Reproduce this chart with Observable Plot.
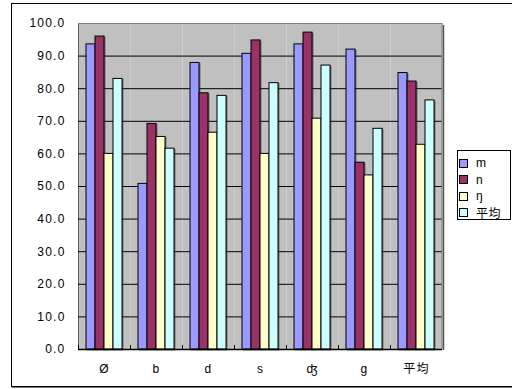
<!DOCTYPE html>
<html>
<head>
<meta charset="utf-8">
<script src="https://cdn.jsdelivr.net/npm/d3@7"></script>
<script src="https://cdn.jsdelivr.net/npm/@observablehq/plot@0.6"></script>
<style>
  html, body { margin: 0; padding: 0; background: #fff; }
  #wrap { position: relative; width: 512px; height: 389px; overflow: hidden;
          font-family: "Liberation Sans", Arial, "Noto Sans CJK JP", sans-serif; }
  #wrap svg { position: absolute; left: 0; top: 0; }
  #wrap svg text { font-family: "Liberation Sans", Arial, "Noto Sans CJK JP", sans-serif; fill: #000; }
  #wrap g[aria-label="bar"] rect { filter: drop-shadow(1px 1px 0 rgba(40,40,40,0.55)); }
  #border { position: absolute; left: 11px; top: 3px; width: 520px; height: 382px;
            border: 1px solid #000; box-shadow: 1px 1px 0 #777; pointer-events: none; }
  #legend { position: absolute; left: 457px; top: 150px; width: 54px; height: 70px;
            border: 1px solid #000; background: #fff; box-sizing: border-box;
            padding-top: 4px; }
  .item { height: 16.5px; display: flex; align-items: center; font-size: 12px; letter-spacing: 0.5px; }
  .sw { width: 9px; height: 9px; border: 1px solid #000; margin-left: 1px; margin-right: 8px; box-sizing: border-box; }
</style>
</head>
<body>
<div id="wrap"></div>
<script>
// Categories (onset consonants) and the four series
const categories = ["Ø", "b", "d", "s", "ʤ", "g", "平均"];
const seriesNames = ["m", "n", "ŋ", "平均"];
const mValues   = [93.6, 50.8, 87.9, 90.7, 93.6, 92.0, 84.8];
const nValues   = [96.0, 69.2, 78.6, 94.8, 97.2, 57.3, 82.2];
const ngValues  = [60.0, 65.2, 66.5, 60.0, 70.8, 53.4, 62.8];
const avgValues = [83.0, 61.6, 77.8, 81.7, 87.1, 67.7, 76.4];
const seriesColors = ["#9999FF", "#993366", "#FFFFCC", "#CCFFFF"];
const yTicks = [0, 10, 20, 30, 40, 50, 60, 70, 80, 90, 100];

const seriesValues = [mValues, nValues, ngValues, avgValues];
const rows = categories.flatMap((c, i) =>
  seriesNames.map((s, j) => ({category: c, series: s, value: seriesValues[j][i]}))
);

const chart = Plot.plot({
  width: 512,
  height: 389,
  marginLeft: 76,
  marginRight: 69,
  marginTop: 23,
  marginBottom: 40,
  style: {background: "transparent", fontSize: "12px", letterSpacing: "1.2px"},
  fx: {domain: categories, padding: 0, label: null, tickSize: 0, tickPadding: 15},
  x: {domain: seriesNames, paddingInner: 0, paddingOuter: 0.75, axis: null},
  y: {domain: [0, 100], ticks: yTicks, tickFormat: d => d.toFixed(1), tickSize: 0,
      tickPadding: 13, label: null, line: true},
  color: {domain: seriesNames, range: seriesColors},
  marks: [
    Plot.frame({fill: "#C0C0C0", stroke: null}),
    Plot.ruleY(yTicks.filter(t => t > 0 && t < 100), {stroke: "#000", strokeWidth: 1}),
    Plot.ruleY([100], {stroke: "#808080"}),
    Plot.barY(rows, {fx: "category", x: "series", y: "value", fill: "series",
                     stroke: "#000", strokeWidth: 1}),
    Plot.frame({anchor: "left", insetTop: 322, stroke: "#000"}),
    Plot.ruleY([0], {stroke: "#000", strokeWidth: 1.5})
  ]
});

document.getElementById("wrap").appendChild(chart);

// Right edge of the plot area, with its shadow
const fx = chart.scale("fx");
const y = chart.scale("y");
const xr = fx.apply(categories[categories.length - 1]) + fx.bandwidth;
const svg = d3.select(chart);
svg.append("line")
  .attr("x1", xr).attr("x2", xr).attr("y1", y.apply(100)).attr("y2", y.apply(0))
  .attr("stroke", "#808080");
svg.append("line")
  .attr("x1", xr + 1.5).attr("x2", xr + 1.5).attr("y1", y.apply(100) + 2).attr("y2", y.apply(0) + 1)
  .attr("stroke", "#555").attr("stroke-width", 1.5);

// Legend
const legend = document.createElement("div");
legend.id = "legend";
seriesNames.forEach((s, j) => {
  const item = document.createElement("div");
  item.className = "item";
  const sw = document.createElement("span");
  sw.className = "sw";
  sw.style.background = seriesColors[j];
  const label = document.createElement("span");
  label.textContent = s;
  item.appendChild(sw);
  item.appendChild(label);
  legend.appendChild(item);
});
document.getElementById("wrap").appendChild(legend);

const border = document.createElement("div");
border.id = "border";
document.getElementById("wrap").appendChild(border);
</script>
</body>
</html>
